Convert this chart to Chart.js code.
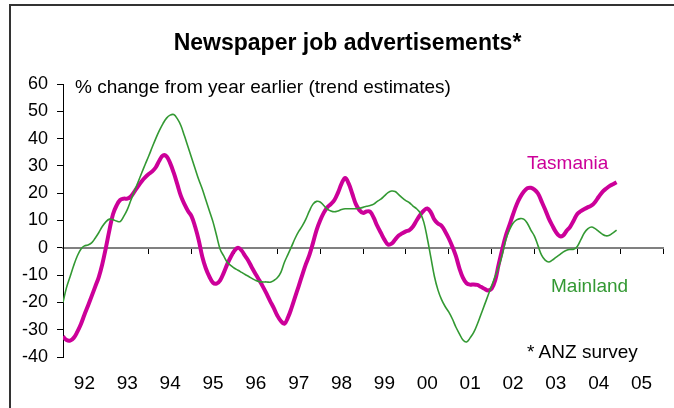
<!DOCTYPE html>
<html>
<head>
<meta charset="utf-8">
<script src="https://cdn.jsdelivr.net/npm/chart.js@4"></script>
<style>
  body { margin: 0; background: #fff; }
  #wrap { position: relative; width: 674px; height: 408px; overflow: hidden; font-family: "Liberation Sans", Arial, sans-serif; }
  #frame { position: absolute; left: 9px; top: 4px; width: 700px; height: 500px; border-left: 2px solid #333; border-top: 2px solid #333; }
  .txt { position: absolute; white-space: nowrap; line-height: 1; }
  #title { left: 0; width: 695px; text-align: center; top: 31px; font-size: 23px; font-weight: bold; color: #000; }
  #sub { left: 75px; top: 77px; font-size: 19px; color: #000; }
  #tas { left: 527px; top: 153px; font-size: 19px; color: #cc0099; }
  #main { left: 551px; top: 276px; font-size: 19px; color: #339933; }
  #note { left: 527px; top: 342px; font-size: 19px; color: #000; }
  canvas { position: absolute; left: 0; top: 0; }
</style>
</head>
<body>
<div id="wrap">
  <div id="frame"></div>
  <canvas id="chart" width="674" height="408"></canvas>
  <div class="txt" id="title">Newspaper job advertisements*</div>
  <div class="txt" id="sub">% change from year earlier (trend estimates)</div>
  <div class="txt" id="tas">Tasmania</div>
  <div class="txt" id="main">Mainland</div>
  <div class="txt" id="note">* ANZ survey</div>
</div>
<script>
// monthly, Jan 1992 - Dec 2004
const startYear = 1992;

const tasmania = [
  -32.5, -33.8, -34, -33, -30.8, -28, -24.5, -21.2, -17.8, -14.3, -10.8, -6,
  0, 6.5, 12.3, 15.5, 17.5, 18, 18, 18.8, 20.6, 22.5, 24.3, 25.8,
  27, 28, 29.5, 32, 33.8, 33.5, 31, 27.5, 23.3, 19, 16, 13.5,
  11.5, 7.7, 2.8, -3.3, -7.6, -10.6, -12.8, -13.1, -11.9, -9.2, -6, -3.3,
  -1.1, 0, -1, -3, -5, -7.5, -9.8, -12, -14.3, -16.8, -19.5, -22,
  -24.8, -26.8, -27.8, -25.5, -22, -18, -14, -9.9, -6, -2.6, 1.8, 6.5,
  10, 12.8, 14.8, 16, 17.5, 20.2, 23.5, 25.6, 23.5, 19.8, 16, 13.8,
  12.8, 13.3, 13.2, 11, 8, 5.5, 3, 1.2, 1.5, 3, 4.5, 5.3,
  6, 6.5, 7.8, 10, 12, 13.6, 14.4, 13, 10.3, 8.9, 8, 6,
  3.5, 0.5, -3, -7.5, -11, -13, -13.5, -13.4, -13.6, -14.3, -15, -15.6,
  -15, -12, -6, -0.5, 4.5, 8.3, 12.2, 15.8, 18.5, 20.5, 21.8, 22,
  21.3, 19.9, 17, 14, 10.8, 8.2, 5.8, 4.3, 4.5, 6.2, 7.7, 10,
  12.4, 13.4, 14.2, 14.9, 15.5, 16.8, 18.7, 20.4, 21.6, 22.6, 23.3, 24
];

const mainland = [
  -20, -14.5, -10.5, -6.5, -3, -0.5, 0.7, 1, 1.8, 3.5, 5.5, 7.8,
  9.5, 10.5, 10.3, 9.8, 9.6, 11.5, 14, 17.4, 20.8, 24, 27.3, 30.5,
  33.6, 36.9, 40.1, 43, 45.5, 47.5, 48.6, 48.8, 47.3, 44.8, 41, 37,
  33, 29, 25, 21.5, 17.5, 13.5, 9.5, 4.5, -0.5, -3, -5.3, -6.5,
  -7.5, -8.2, -9, -9.8, -10.5, -11.3, -12, -12.4, -12.5, -12.5, -12.6, -12,
  -11, -9, -5.3, -2.4, 0.5, 3.5, 6, 8, 10.5, 13.5, 16, 17,
  16.8, 15.5, 14.2, 13.5, 13.2, 13.5, 14, 14.3, 14.3, 14.3, 14.3, 14.5,
  14.8, 15.2, 15.5, 16, 17, 17.8, 19, 20.2, 20.8, 20.6, 19.5, 18.3,
  17.3, 16.5, 15.3, 14.3, 12.8, 9.5, 3.5, -3.5, -10.5, -15.5, -19, -21.5,
  -23.5, -26, -29, -31.5, -33.8, -34.5, -33, -31, -28, -24.5, -21, -17.5,
  -14, -10.5, -7, -2.5, 3, 6.5, 9, 10.2, 10.7, 10.5, 9, 6.5,
  4.3, 0.8, -2.7, -4.5, -5.2, -4.5, -3.5, -2.6, -1.6, -0.9, -0.6, -0.5,
  0.5, 3, 5.5, 7, 7.6, 7, 6, 5, 4.4, 4.6, 5.5, 6.5
];

const yearLabels = ['92', '93', '94', '95', '96', '97', '98', '99', '00', '01', '02', '03', '04', '05'];

const toPoints = arr => arr.map((v, i) => ({ x: startYear + i / 12, y: v }));
const font = '"Liberation Sans", Arial, sans-serif';

new Chart(document.getElementById('chart'), {
  type: 'line',
  data: {
    datasets: [
      {
        label: 'Mainland',
        data: toPoints(mainland),
        borderColor: '#339933',
        borderWidth: 1.6,
        pointRadius: 0,
        tension: 0.4
      },
      {
        label: 'Tasmania',
        data: toPoints(tasmania),
        borderColor: '#cc0099',
        borderWidth: 4,
        pointRadius: 0,
        tension: 0.4
      }
    ]
  },
  options: {
    responsive: false,
    animation: false,
    layout: { padding: { left: 0, right: 11, top: 84, bottom: 0 } },
    plugins: {
      legend: { display: false },
      tooltip: { enabled: false }
    },
    scales: {
      x: {
        type: 'linear',
        position: { y: 0 },
        min: startYear,
        max: startYear + yearLabels.length,
        ticks: { display: false, stepSize: 1 },
        grid: { drawOnChartArea: false, drawTicks: true, tickLength: 5, color: '#000', lineWidth: 1 },
        border: { color: '#808080', width: 2 }
      },
      x2: {
        type: 'linear',
        position: 'bottom',
        min: startYear,
        max: startYear + yearLabels.length,
        afterBuildTicks: axis => {
          axis.ticks = yearLabels.map((l, i) => ({ value: startYear + i + 0.5 }));
        },
        afterFit: axis => { axis.height = 51; },
        ticks: {
          autoSkip: false,
          maxRotation: 0,
          padding: 15,
          color: '#000',
          font: { family: font, size: 19 },
          callback: (v, i) => yearLabels[i]
        },
        grid: { display: false, drawTicks: false },
        border: { display: false }
      },
      y: {
        min: -40,
        max: 60,
        afterFit: axis => { axis.width = 63; },
        ticks: {
          stepSize: 10,
          padding: 9,
          color: '#000',
          font: { family: font, size: 18 }
        },
        grid: { drawOnChartArea: false, drawTicks: true, tickLength: 6, color: '#000', lineWidth: 1 },
        border: { color: '#000', width: 1 }
      }
    }
  }
});
</script>
</body>
</html>
